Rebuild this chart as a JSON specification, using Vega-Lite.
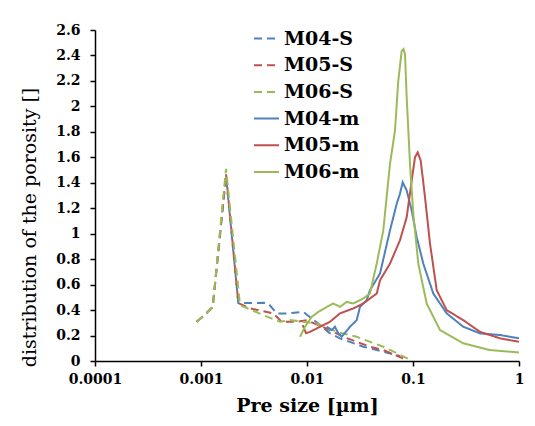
{
  "$schema": "https://vega.github.io/schema/vega-lite/v6.json",
  "width": 424,
  "height": 331,
  "autosize": {"type": "none"},
  "padding": {"left": 95, "top": 30, "right": 16, "bottom": 65},
  "background": "white",
  "config": {"view": {"stroke": null}},
  "data": {"values": [
    {"s":"M04-S","x":0.000911,"y":0.308},{"s":"M04-S","x":0.001051,"y":0.352},{"s":"M04-S","x":0.00129,"y":0.425},{"s":"M04-S","x":0.001722,"y":1.45},{"s":"M04-S","x":0.00225,"y":0.455},{"s":"M04-S","x":0.00387,"y":0.457},{"s":"M04-S","x":0.00431,"y":0.452},{"s":"M04-S","x":0.00518,"y":0.374},{"s":"M04-S","x":0.00666,"y":0.374},{"s":"M04-S","x":0.00923,"y":0.386},{"s":"M04-S","x":0.01107,"y":0.334},{"s":"M04-S","x":0.01278,"y":0.295},{"s":"M04-S","x":0.01648,"y":0.217},{"s":"M04-S","x":0.02048,"y":0.178},{"s":"M04-S","x":0.03397,"y":0.112},{"s":"M04-S","x":0.05246,"y":0.073},{"s":"M04-S","x":0.07531,"y":0.039},
    {"s":"M05-S","x":0.000911,"y":0.308},{"s":"M05-S","x":0.001051,"y":0.352},{"s":"M05-S","x":0.00129,"y":0.425},{"s":"M05-S","x":0.001722,"y":1.47},{"s":"M05-S","x":0.00225,"y":0.455},{"s":"M05-S","x":0.002898,"y":0.413},{"s":"M05-S","x":0.00481,"y":0.374},{"s":"M05-S","x":0.005771,"y":0.308},{"s":"M05-S","x":0.007993,"y":0.308},{"s":"M05-S","x":0.009936,"y":0.321},{"s":"M05-S","x":0.01278,"y":0.282},{"s":"M05-S","x":0.01648,"y":0.243},{"s":"M05-S","x":0.022,"y":0.19},{"s":"M05-S","x":0.02943,"y":0.151},{"s":"M05-S","x":0.03928,"y":0.112},{"s":"M05-S","x":0.05246,"y":0.086},{"s":"M05-S","x":0.08777,"y":0.008},
    {"s":"M06-S","x":0.000911,"y":0.308},{"s":"M06-S","x":0.001051,"y":0.352},{"s":"M06-S","x":0.00129,"y":0.425},{"s":"M06-S","x":0.001722,"y":1.51},{"s":"M06-S","x":0.002333,"y":0.439},{"s":"M06-S","x":0.00387,"y":0.36},{"s":"M06-S","x":0.005559,"y":0.308},{"s":"M06-S","x":0.006913,"y":0.321},{"s":"M06-S","x":0.01235,"y":0.295},{"s":"M06-S","x":0.01905,"y":0.229},{"s":"M06-S","x":0.02943,"y":0.19},{"s":"M06-S","x":0.05246,"y":0.112},{"s":"M06-S","x":0.09721,"y":0.004},
    {"s":"M04-m","x":0.01534,"y":0.269},{"s":"M04-m","x":0.0171,"y":0.243},{"s":"M04-m","x":0.01837,"y":0.269},{"s":"M04-m","x":0.01974,"y":0.217},{"s":"M04-m","x":0.02125,"y":0.19},{"s":"M04-m","x":0.02544,"y":0.269},{"s":"M04-m","x":0.02943,"y":0.321},{"s":"M04-m","x":0.03162,"y":0.425},{"s":"M04-m","x":0.03657,"y":0.478},{"s":"M04-m","x":0.03928,"y":0.556},{"s":"M04-m","x":0.04884,"y":0.687},{"s":"M04-m","x":0.06067,"y":1.026},{"s":"M04-m","x":0.07019,"y":1.235},{"s":"M04-m","x":0.07531,"y":1.313},{"s":"M04-m","x":0.07993,"y":1.404},{"s":"M04-m","x":0.08721,"y":1.339},{"s":"M04-m","x":0.09721,"y":1.182},{"s":"M04-m","x":0.1084,"y":0.973},{"s":"M04-m","x":0.1251,"y":0.765},{"s":"M04-m","x":0.1554,"y":0.53},{"s":"M04-m","x":0.2079,"y":0.374},{"s":"M04-m","x":0.2981,"y":0.269},{"s":"M04-m","x":0.4285,"y":0.217},{"s":"M04-m","x":0.6618,"y":0.204},{"s":"M04-m","x":1.0,"y":0.178},
    {"s":"M05-m","x":0.009109,"y":0.282},{"s":"M05-m","x":0.009786,"y":0.219},{"s":"M05-m","x":0.01067,"y":0.229},{"s":"M05-m","x":0.01425,"y":0.282},{"s":"M05-m","x":0.01648,"y":0.308},{"s":"M05-m","x":0.02048,"y":0.374},{"s":"M05-m","x":0.02734,"y":0.413},{"s":"M05-m","x":0.03397,"y":0.452},{"s":"M05-m","x":0.04545,"y":0.53},{"s":"M05-m","x":0.04884,"y":0.634},{"s":"M05-m","x":0.06067,"y":0.765},{"s":"M05-m","x":0.07531,"y":0.948},{"s":"M05-m","x":0.08721,"y":1.13},{"s":"M05-m","x":0.09721,"y":1.417},{"s":"M05-m","x":0.1044,"y":1.6},{"s":"M05-m","x":0.1107,"y":1.639},{"s":"M05-m","x":0.1182,"y":1.574},{"s":"M05-m","x":0.1298,"y":1.287},{"s":"M05-m","x":0.1447,"y":0.922},{"s":"M05-m","x":0.1674,"y":0.556},{"s":"M05-m","x":0.2079,"y":0.399},{"s":"M05-m","x":0.2981,"y":0.321},{"s":"M05-m","x":0.4285,"y":0.229},{"s":"M05-m","x":0.6618,"y":0.178},{"s":"M05-m","x":1.0,"y":0.151},
    {"s":"M06-m","x":0.00859,"y":0.19},{"s":"M06-m","x":0.009574,"y":0.269},{"s":"M06-m","x":0.01107,"y":0.347},{"s":"M06-m","x":0.01278,"y":0.386},{"s":"M06-m","x":0.01534,"y":0.425},{"s":"M06-m","x":0.0177,"y":0.452},{"s":"M06-m","x":0.02048,"y":0.425},{"s":"M06-m","x":0.02367,"y":0.464},{"s":"M06-m","x":0.02734,"y":0.452},{"s":"M06-m","x":0.03397,"y":0.491},{"s":"M06-m","x":0.03928,"y":0.53},{"s":"M06-m","x":0.04545,"y":0.765},{"s":"M06-m","x":0.05246,"y":1.026},{"s":"M06-m","x":0.06067,"y":1.548},{"s":"M06-m","x":0.06761,"y":1.809},{"s":"M06-m","x":0.07261,"y":2.2},{"s":"M06-m","x":0.07822,"y":2.435},{"s":"M06-m","x":0.08134,"y":2.451},{"s":"M06-m","x":0.08403,"y":2.41},{"s":"M06-m","x":0.08721,"y":2.07},{"s":"M06-m","x":0.09369,"y":1.548},{"s":"M06-m","x":0.1006,"y":1.157},{"s":"M06-m","x":0.1122,"y":0.765},{"s":"M06-m","x":0.1346,"y":0.452},{"s":"M06-m","x":0.1798,"y":0.243},{"s":"M06-m","x":0.2981,"y":0.139},{"s":"M06-m","x":0.5325,"y":0.086},{"s":"M06-m","x":1.0,"y":0.067}
  ]},
  "mark": {"type": "line", "strokeWidth": 2, "clip": true},
  "encoding": {
    "x": {
      "field": "x", "type": "quantitative",
      "scale": {"type": "log", "domain": [0.0001, 1], "nice": false},
      "axis": {
        "title": "Pre size  [µm]",
        "values": [0.0001, 0.001, 0.01, 0.1, 1],
        "format": "~g",
        "grid": false,
        "domainColor": "black", "domainWidth": 1.5,
        "tickColor": "black", "tickWidth": 1.5, "tickSize": 5,
        "labelFont": "DejaVu Serif", "labelFontWeight": "bold", "labelFontSize": 14, "labelColor": "black", "labelPadding": 6,
        "labelFlush": false,
        "titleFont": "DejaVu Serif", "titleFontWeight": "bold", "titleFontSize": 19, "titleColor": "black", "titlePadding": 10
      }
    },
    "y": {
      "field": "y", "type": "quantitative",
      "scale": {"domain": [0, 2.6], "nice": false},
      "axis": {
        "title": "distribution of the porosity []",
        "values": [0, 0.2, 0.4, 0.6, 0.8, 1, 1.2, 1.4, 1.6, 1.8, 2, 2.2, 2.4, 2.6],
        "format": "~g",
        "grid": false,
        "domainColor": "black", "domainWidth": 1.5,
        "tickColor": "black", "tickWidth": 1.5, "tickSize": 5,
        "labelFont": "DejaVu Serif", "labelFontWeight": "bold", "labelFontSize": 14, "labelColor": "black", "labelPadding": 10,
        "labelFlush": false,
        "titleFont": "DejaVu Serif", "titleFontWeight": "normal", "titleFontSize": 19, "titleColor": "black", "titlePadding": 16,
        "titleY": 197
      }
    },
    "color": {
      "field": "s", "type": "nominal", "title": null,
      "scale": {
        "domain": ["M04-S", "M05-S", "M06-S", "M04-m", "M05-m", "M06-m"],
        "range": ["#4f81bd", "#c0504d", "#9bbb59", "#4f81bd", "#c0504d", "#9bbb59"]
      },
      "legend": {
        "orient": "none", "legendX": 158, "legendY": -5,
        "padding": 0,
        "labelFont": "DejaVu Serif", "labelFontWeight": "bold", "labelFontSize": 19, "labelColor": "black",
        "labelOffset": 4, "rowPadding": 2.7,
        "symbolType": "stroke", "symbolSize": 625, "symbolStrokeWidth": 2
      }
    },
    "strokeDash": {
      "field": "s", "type": "nominal", "title": null,
      "scale": {
        "domain": ["M04-S", "M05-S", "M06-S", "M04-m", "M05-m", "M06-m"],
        "range": [[8, 5], [8, 5], [8, 5], [1, 0], [1, 0], [1, 0]]
      }
    }
  }
}
